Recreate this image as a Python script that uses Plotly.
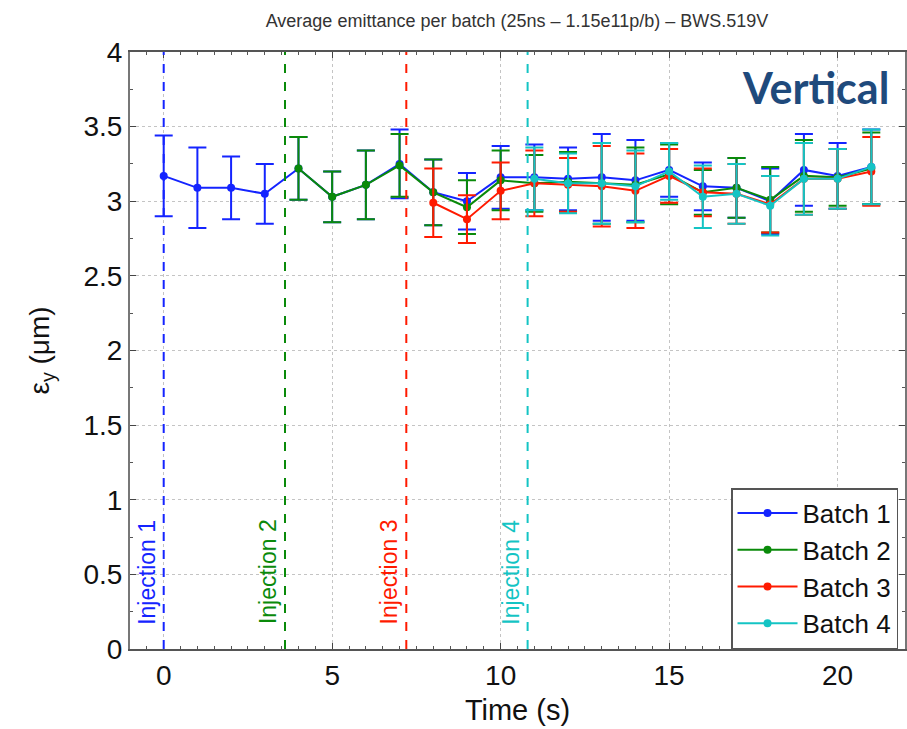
import plotly.graph_objects as go

# ---------------- data ----------------
t_b1 = list(range(0, 22))
b1 = [3.17, 3.09, 3.09, 3.05, 3.22, 3.03, 3.11, 3.25, 3.06, 3.00, 3.16,
      3.16, 3.15, 3.16, 3.14, 3.21, 3.10, 3.09, 3.00, 3.21, 3.17, 3.23]
b1_err = [0.27, 0.27, 0.21, 0.20, 0.21, 0.17, 0.23, 0.23, 0.22, 0.19, 0.21,
          0.22, 0.21, 0.29, 0.27, 0.18, 0.16, 0.20, 0.22, 0.24, 0.22, 0.25]

t_b2 = list(range(4, 22))
b2 = [3.22, 3.03, 3.11, 3.24, 3.06, 2.96, 3.14, 3.12, 3.13, 3.12, 3.11,
      3.18, 3.06, 3.09, 3.01, 3.17, 3.16, 3.22]
b2_err = [0.21, 0.17, 0.23, 0.21, 0.22, 0.18, 0.20, 0.19, 0.20, 0.27, 0.25,
          0.20, 0.15, 0.20, 0.22, 0.24, 0.19, 0.24]

t_b3 = list(range(8, 22))
b3 = [2.99, 2.88, 3.07, 3.12, 3.11, 3.10, 3.07, 3.17, 3.06, 3.05, 2.98,
      3.15, 3.15, 3.20]
b3_err = [0.23, 0.16, 0.19, 0.22, 0.18, 0.27, 0.25, 0.18, 0.16, 0.20, 0.19,
          0.24, 0.20, 0.23]

t_b4 = list(range(11, 22))
b4 = [3.15, 3.12, 3.12, 3.10, 3.20, 3.03, 3.05, 2.97, 3.15, 3.15, 3.23]
b4_err = [0.21, 0.20, 0.27, 0.24, 0.19, 0.21, 0.20, 0.20, 0.24, 0.20, 0.25]

series_names = ["Batch 1", "Batch 2", "Batch 3", "Batch 4"]
colors = ["#1424ff", "#0a8a0a", "#ff1a00", "#14c4c4"]

injection_times = [0, 3.6, 7.2, 10.8]
injection_labels = ["Injection 1", "Injection 2", "Injection 3", "Injection 4"]

title_text = "Average emittance per batch (25ns \u2013 1.15e11p/b) \u2013 BWS.519V"

# ---------------- figure ----------------
fig = go.Figure()

series = [(t_b1, b1, b1_err), (t_b2, b2, b2_err), (t_b3, b3, b3_err), (t_b4, b4, b4_err)]
for (t, v, e), name, c in zip(series, series_names, colors):
    fig.add_trace(go.Scatter(
        x=t, y=v, name=name, mode="lines+markers",
        line=dict(color=c, width=2),
        marker=dict(color=c, size=8),
        error_y=dict(type="data", array=e, visible=True, color=c,
                     thickness=2, width=9),
    ))

for t, lab, c in zip(injection_times, injection_labels, colors):
    fig.add_vline(x=t, line=dict(color=c, width=2, dash="dash"))
    fig.add_annotation(x=t, y=0.15, xref="x", yref="y", text=lab,
                       textangle=-90, showarrow=False, xanchor="right",
                       yanchor="bottom", xshift=-2,
                       font=dict(family="Liberation Sans, Arial", size=23, color=c))

fig.update_layout(
    width=907, height=729,
    margin=dict(l=130, r=0, t=52, b=80),
    plot_bgcolor="white", paper_bgcolor="white",
    font=dict(family="Liberation Sans, Arial", color="#111111"),
    title=dict(text=title_text, x=0.57, xanchor="center", y=0.972, yanchor="middle",
               font=dict(size=18, color="#333333")),
    showlegend=True,
    legend=dict(x=0.991, y=0.0, xanchor="right", yanchor="bottom",
                bgcolor="white", bordercolor="#555555", borderwidth=1.5,
                font=dict(size=26, color="#111111"), itemwidth=60,
                tracegroupgap=0),
)

fig.update_xaxes(
    range=[-1, 22], tickvals=[0, 5, 10, 15, 20], ticks="inside", ticklen=6,
    tickfont=dict(size=28), showline=True, linecolor="#555555", linewidth=2,
    mirror="allticks", showgrid=True, gridcolor="#c4c4c4", griddash="dot",
    gridwidth=1, zeroline=False,
    minor=dict(dtick=0.5, ticks="inside", ticklen=3, tickcolor="#555555", showgrid=False),
    title=dict(text="Time (s)", font=dict(size=29), standoff=10),
)
fig.update_yaxes(
    range=[0, 4], dtick=0.5, ticks="inside", ticklen=6,
    tickfont=dict(size=28), showline=True, linecolor="#777777", linewidth=2,
    mirror="allticks", showgrid=True, gridcolor="#c4c4c4", griddash="dot",
    gridwidth=1, zeroline=False,
    minor=dict(dtick=0.25, ticks="inside", ticklen=3, tickcolor="#555555", showgrid=False),
    title=dict(text="\u03b5<sub>y</sub> (\u03bcm)", font=dict(size=28), standoff=26),
)

fig.add_annotation(x=1.0, y=0.94, xref="paper", yref="paper", text="<b>Vertical</b>",
                   showarrow=False, xanchor="right", yanchor="middle", xshift=-14,
                   font=dict(family="Lato, Open Sans", size=43, color="#1f4a7c"))

fig.write_html("out.html")
